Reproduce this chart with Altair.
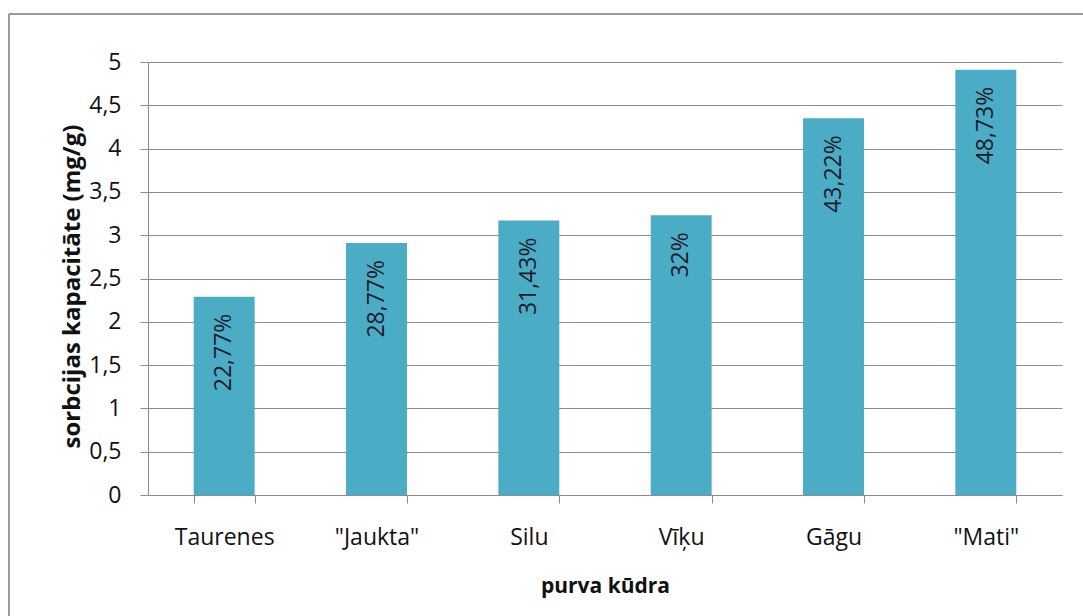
import altair as alt
import pandas as pd

# Peat types (purva kūdra)
categories = ["Taurenes", "\"Jaukta\"", "Silu", "Vīķu", "Gāgu", "\"Mati\""]
# Sorption capacity, mg/g
capacity = [2.29, 2.91, 3.17, 3.23, 4.35, 4.91]
# Sorption percentage shown on each bar
percent = [22.77, 28.77, 31.43, 32, 43.22, 48.73]

df = pd.DataFrame({"kudra": categories, "kapacitate": capacity, "procenti": percent})

FONT = "Open Sans"
BAR = "#4BACC6"
GRID = "#8c8c8c"
INK = "#111111"

x = alt.X(
    "kudra:N",
    sort=categories,
    title="purva kūdra",
    scale=alt.Scale(paddingInner=0.6, paddingOuter=0.3),
    axis=alt.Axis(
        labelAngle=0,
        labelFont=FONT,
        labelFontSize=23,
        labelColor=INK,
        labelPadding=23,
        titleFont=FONT,
        titleFontSize=21,
        titleFontWeight="bold",
        titleColor=INK,
        titlePadding=26,
        tickBand="extent",
        tickSize=8,
        tickColor=GRID,
        domainColor=GRID,
        grid=False,
    ),
)

y = alt.Y(
    "kapacitate:Q",
    title="sorbcijas kapacitāte (mg/g)",
    scale=alt.Scale(domain=[0, 5], nice=False),
    axis=alt.Axis(
        values=[0, 0.5, 1, 1.5, 2, 2.5, 3, 3.5, 4, 4.5, 5],
        labelExpr="replace(toString(datum.value), '.', ',')",
        labelFont=FONT,
        labelFontSize=23,
        labelColor=INK,
        labelPadding=19,
        titleFont=FONT,
        titleFontSize=24,
        titleFontWeight="bold",
        titleColor=INK,
        titlePadding=4,
        titleY=224,
        tickSize=8,
        tickColor=GRID,
        domainColor=GRID,
        gridColor=GRID,
        gridWidth=1,
    ),
)

bars = alt.Chart(df).mark_bar(color=BAR).encode(x=x, y=y)

labels = (
    alt.Chart(df)
    .transform_calculate(txt="replace(toString(datum.procenti), '.', ',') + '%'")
    .mark_text(
        angle=270,
        align="right",
        baseline="middle",
        dx=-17,
        font=FONT,
        fontSize=23,
        color="#1b1b2a",
    )
    .encode(x=alt.X("kudra:N", sort=categories), y="kapacitate:Q", text="txt:N")
)

# Outer chart frame (top and left edges)
frame_top = alt.Chart(df).mark_rule(color="#9a9a9a", strokeWidth=1.5).encode(
    x=alt.value(-139), x2=alt.value(960), y=alt.value(-48)
)
frame_left = alt.Chart(df).mark_rule(color="#9a9a9a", strokeWidth=1.5).encode(
    x=alt.value(-139), y=alt.value(-48), y2=alt.value(600)
)

chart = (
    alt.layer(bars, labels, frame_top, frame_left)
    .properties(
        width=914,
        height=433,
        autosize=alt.AutoSizeParams(type="none"),
        padding={"left": 148, "top": 62, "right": 21, "bottom": 121},
        background="white",
    )
    .configure_view(stroke=None)
)

chart.save("out.html", embed_options={"renderer": "svg", "actions": False})
